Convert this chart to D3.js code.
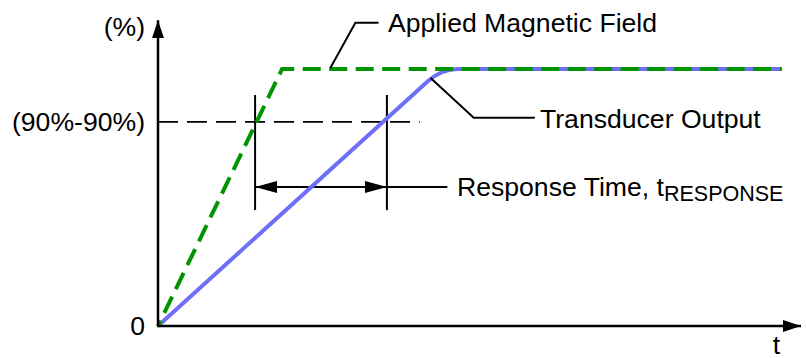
<!DOCTYPE html>
<html>
<head>
<meta charset="utf-8">
<script src="https://cdn.jsdelivr.net/npm/d3@7"></script>
<style>
  html, body { margin: 0; padding: 0; background: #fff; }
  svg { display: block; }
  text { font-family: "Liberation Sans", Arial, sans-serif; fill: #000; }
</style>
</head>
<body>
<svg id="chart" width="807" height="358"></svg>
<script>
// ---- data ----
const fieldTime   = [0, 19.3, 97];
const fieldValue  = [0, 100, 100];
const outputTime  = [0, 42.0, 44.1, 46.7, 97];
const outputValue = [0, 95.3, 100, 100, 100];
const thresholdValue = 79.4;          // the "(90%-90%)" level
const thresholdEndTime = 40.7;
const responseStart = 15.1;           // field crosses threshold
const responseEnd   = 35.6;           // output crosses threshold
const yTickValues = [0, thresholdValue];
const yTickLabels = ["0", "(90%-90%)"];
const yAxisTitle = "(%)";
const xAxisTitle = "t";
const fieldLabel = "Applied Magnetic Field";
const outputLabel = "Transducer Output";
const responseLabel = "Response Time, t";
const responseSub = "RESPONSE";

// ---- layout ----
const svg = d3.select("#chart");
const x = d3.scaleLinear().domain([0, 100]).range([158, 801]);
const y = d3.scaleLinear().domain([0, 100]).range([326, 69]);
const FS = 26.6;

const defs = svg.append("defs");
function arrowMarker(id, orient) {
  defs.append("marker")
    .attr("id", id).attr("viewBox", "0 0 18 12")
    .attr("refX", 18).attr("refY", 6)
    .attr("markerWidth", 18).attr("markerHeight", 12)
    .attr("markerUnits", "userSpaceOnUse")
    .attr("orient", orient)
    .append("path").attr("d", "M0,0L18,6L0,12Z").attr("fill", "#000");
}
arrowMarker("arr", "auto");
defs.append("marker")
    .attr("id", "arrL").attr("viewBox", "0 0 22 12")
    .attr("refX", 22).attr("refY", 6)
    .attr("markerWidth", 22).attr("markerHeight", 12)
    .attr("markerUnits", "userSpaceOnUse")
    .attr("orient", "auto-start-reverse")
    .append("path").attr("d", "M0,0L22,6L0,12Z").attr("fill", "#000");

// threshold dashed line
svg.append("line")
  .attr("x1", x(0)).attr("x2", x(thresholdEndTime))
  .attr("y1", y(thresholdValue)).attr("y2", y(thresholdValue))
  .attr("stroke", "#000").attr("stroke-width", 1.8)
  .attr("stroke-dasharray", "20,9");

// response markers
[responseStart, responseEnd].forEach(t => {
  svg.append("line")
    .attr("x1", x(t)).attr("x2", x(t))
    .attr("y1", y(89.9)).attr("y2", y(45.1))
    .attr("stroke", "#000").attr("stroke-width", 2);
});
svg.append("line")
  .attr("x1", x(responseStart)).attr("x2", x(responseEnd))
  .attr("y1", y(54.1)).attr("y2", y(54.1))
  .attr("stroke", "#000").attr("stroke-width", 2)
  .attr("marker-start", "url(#arrL)").attr("marker-end", "url(#arrL)");
svg.append("line")
  .attr("x1", x(responseEnd)).attr("x2", x(45.0))
  .attr("y1", y(54.1)).attr("y2", y(54.1))
  .attr("stroke", "#000").attr("stroke-width", 2);

// transducer output (blue)
const op = d3.path();
op.moveTo(x(outputTime[0]), y(outputValue[0]));
op.lineTo(x(outputTime[1]), y(outputValue[1]));
op.quadraticCurveTo(x(outputTime[2]), y(outputValue[2]), x(outputTime[3]), y(outputValue[3]));
op.lineTo(x(outputTime[4]), y(outputValue[4]));
svg.append("path")
  .attr("d", op.toString())
  .attr("fill", "none").attr("stroke", "#6e6ef6").attr("stroke-width", 4);

// applied field (green dashed)
const fieldLine = d3.line().x(d => x(d[0])).y(d => y(d[1]));
svg.append("path")
  .datum(fieldTime.map((t, i) => [t, fieldValue[i]]))
  .attr("d", fieldLine)
  .attr("fill", "none").attr("stroke", "#009400").attr("stroke-width", 4)
  .attr("stroke-dasharray", "18,8.5")
  .attr("stroke-dashoffset", 12);

// axes
svg.append("line")
  .attr("x1", x(0)).attr("y1", y(0)).attr("x2", x(0)).attr("y2", y(119))
  .attr("stroke", "#000").attr("stroke-width", 2.5)
  .attr("marker-end", "url(#arr)");
svg.append("line")
  .attr("x1", x(0) - 1).attr("y1", y(0)).attr("x2", x(100)).attr("y2", y(0))
  .attr("stroke", "#000").attr("stroke-width", 2.5)
  .attr("marker-end", "url(#arr)");

const yAxis = d3.axisLeft(y)
  .tickValues(yTickValues)
  .tickFormat((d, i) => yTickLabels[i])
  .tickSize(0).tickPadding(13);
const gy = svg.append("g").attr("transform", `translate(${x(0)},0)`).call(yAxis);
gy.select(".domain").remove();
gy.selectAll("text")
  .attr("font-size", FS).attr("font-family", "\"Liberation Sans\", Arial, sans-serif")
  .attr("fill", "#000");

svg.append("text").attr("x", x(0) - 13).attr("y", y(116)).attr("dy", "0.32em")
  .attr("text-anchor", "end").attr("font-size", FS).text(yAxisTitle);
svg.append("text").attr("x", x(96.2)).attr("y", 354)
  .attr("text-anchor", "middle").attr("font-size", FS).text(xAxisTitle);

// annotations
svg.append("polyline")
  .attr("points", [[x(26.8), y(100.4)], [x(30.7), y(118)], [x(34.3), y(118)]].map(p => p.join(",")).join(" "))
  .attr("fill", "none").attr("stroke", "#000").attr("stroke-width", 2);
svg.append("text").attr("x", 388).attr("y", 32).attr("font-size", FS).text(fieldLabel);

svg.append("polyline")
  .attr("points", [[x(42.4), y(96.5)], [x(49.1), y(81)], [x(58.6), y(81)]].map(p => p.join(",")).join(" "))
  .attr("fill", "none").attr("stroke", "#000").attr("stroke-width", 2);
svg.append("text").attr("x", 540).attr("y", 128).attr("font-size", FS).text(outputLabel);

const rt = svg.append("text").attr("x", 457).attr("y", 196).attr("font-size", FS);
rt.append("tspan").text(responseLabel);
rt.append("tspan").attr("font-size", 21.5).attr("dy", 5).text(responseSub);
</script>
</body>
</html>
